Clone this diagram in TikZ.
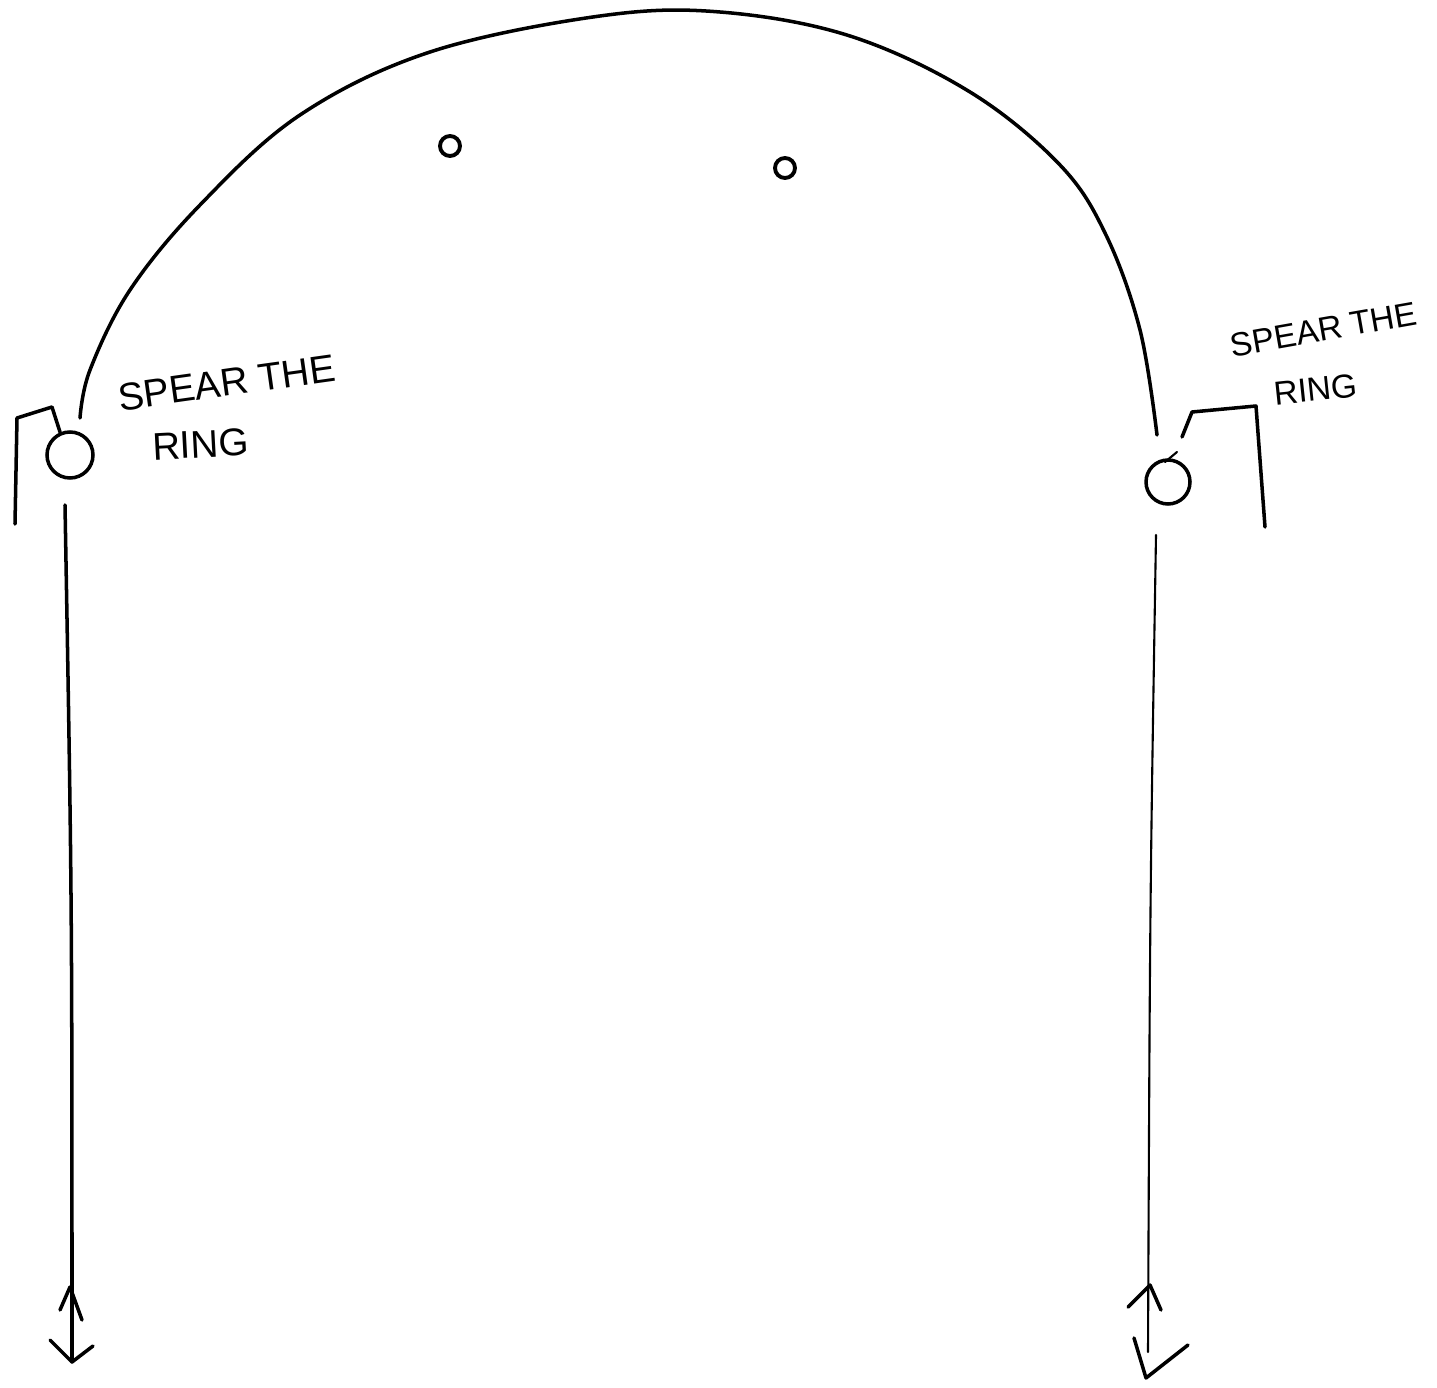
\documentclass[tikz,border=0pt]{standalone}
\usepackage{fontspec}
\setmainfont{Liberation Sans}
\begin{document}
\begin{tikzpicture}[x=0.02cm,y=-0.02cm,
  ink/.style={line width=2pt,line cap=round,line join=round},
  thin ink/.style={line width=1.2pt,line cap=round,line join=round},
  ring/.style={circle,draw,line width=2pt,inner sep=0pt},
  dot/.style={circle,draw,line width=2.2pt,inner sep=0pt,minimum size=0.4cm},
  lbl/.style={font=\fontsize{22}{24}\selectfont,align=left,inner sep=0pt},
  rlbl/.style={font=\fontsize{19}{21}\selectfont,align=left,inner sep=0pt}]
\useasboundingbox (0,0) rectangle (1437,1388);
% rings
\node[ring,minimum size=0.92cm] (lring) at (70,455) {};
\node[ring,minimum size=0.88cm] (rring) at (1168,482) {};
\node[dot] (d1) at (450,146) {};
\node[dot] (d2) at (785,168) {};
% arch
\coordinate (archL) at (80,418);
\coordinate (archR) at (1157,435);
\draw[ink] plot[smooth,tension=0.6] coordinates {(80,418) (90,370) (130,290) (200,205) (300,115) (430,52) (600,16) (720,12) (850,36) (970,92) (1060,165) (1106,235) (1140,330) (1157,435)};
% left gallows
\coordinate (lg1) at (15,524);
\coordinate (lg2) at (17,418);
\coordinate (lg3) at (52,407);
\coordinate (lg4) at (60,432);
\draw[ink] (lg1) -- (lg2) -- (lg3) -- (lg4);
% right gallows
\coordinate (rg1) at (1182,437);
\coordinate (rg2) at (1192,412);
\coordinate (rg3) at (1256,406);
\coordinate (rg4) at (1265,527);
\draw[ink] (rg1) -- (rg2) -- (rg3) -- (rg4);
\draw[thin ink] (1165,462) -- (1177,452);
% left vertical with double arrow
\coordinate (lbot) at (72,1362);
\draw[ink] (65,505) .. controls (72,900) .. (lbot);
\draw[ink] (60,1310) -- (70,1287) -- (82,1320);
\draw[ink] (50,1340) -- (lbot) -- (93,1346);
% right vertical with double arrow
\coordinate (rbot) at (1146,1378);
\draw[thin ink] (1156,535) .. controls (1150,900) .. (1148,1352);
\draw[ink] (1128,1307) -- (1150,1285) -- (1161,1310);
\draw[ink] (1134,1338) -- (rbot) -- (1188,1345);
% labels
\node[lbl,rotate=8,anchor=west] (lt) at (118,398) {SPEAR THE};
\node[lbl,rotate=3,anchor=west] (lt2) at (152,447) {RING};
\node[rlbl,rotate=10,anchor=west] (rt) at (1230,346) {SPEAR THE};
\node[rlbl,rotate=6,anchor=west] (rt2) at (1274,394) {RING};
\end{tikzpicture}
\end{document}
